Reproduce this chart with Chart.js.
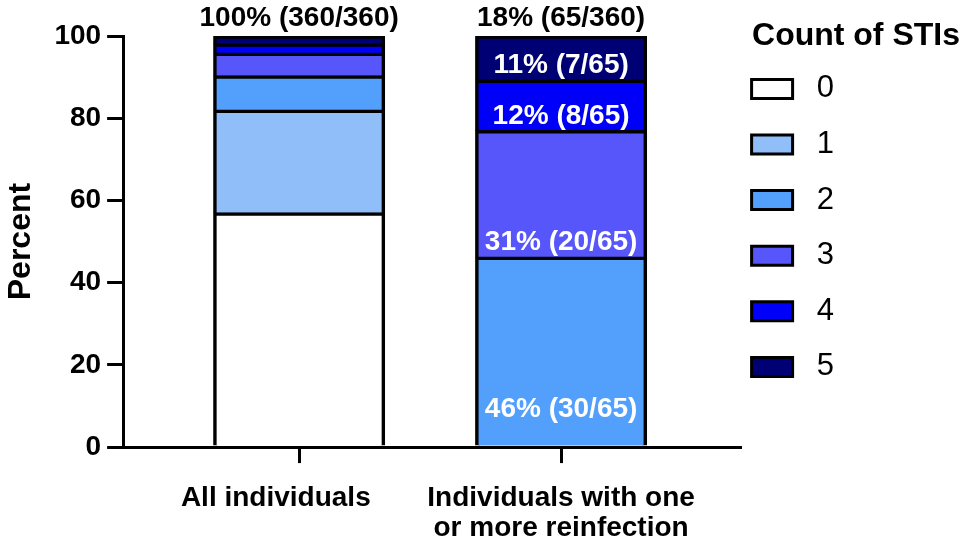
<!DOCTYPE html>
<html>
<head>
<meta charset="utf-8">
<script src="https://cdn.jsdelivr.net/npm/chart.js@4.4.1/dist/chart.umd.min.js"></script>
<style>
    html, body { margin: 0; padding: 0; background: #fff; }
    #wrap { width: 969px; height: 544px; position: relative; }
</style>
</head>
<body>
<div id="wrap"><canvas id="grafico"></canvas></div>
<script>
// dados
var groupPositions = [1, 2];
var groupLabels = [['All individuals      '], ['Individuals with one', 'or more reinfection']];
var groupTotals = [360, 65];
var stiCounts = ['0', '1', '2', '3', '4', '5'];
var count0 = [205, 0];
var count1 = [90, 0];
var count2 = [30, 30];
var count3 = [20, 20];
var count4 = [8, 8];
var count5 = [7, 7];
var showSegmentLabels = [false, true];
var yTicks = [0, 20, 40, 60, 80, 100];

var cores = ['#FFFFFF', '#8FBEF9', '#52A0FB', '#5656FA', '#0000F8', '#000075'];
var fonte = "'Liberation Sans', Arial, sans-serif";

var contagens = [count0, count1, count2, count3, count4, count5];

var datasets = contagens.map(function (serie, i) {
    return {
        label: stiCounts[i],
        data: serie.map(function (n, j) {
            return { x: groupPositions[j], y: n / groupTotals[j] * 100 };
        }),
        counts: serie,
        backgroundColor: cores[i],
        borderColor: '#000',
        borderWidth: 3.5,
        inflateAmount: 0.75,   // sobrepoe os segmentos, sem fresta clara entre eles
        barPercentage: 0.651,
        categoryPercentage: 1
    };
});

// legenda: largura fixa e posicao ao lado do eixo
var legendPlace = {
    id: 'legendPlace',
    beforeInit: function (chart) {
        var fit = chart.legend.fit;
        chart.legend.fit = function () {
            fit.call(this);
            this.width = 229;
        };
    },
    afterLayout: function (chart) {
        var lg = chart.legend;
        lg.left = 727;
        lg.top = 0;
        lg.width = 258;
        lg.right = lg.left + lg.width;
    }
};

// rotulos das barras
var barText = {
    id: 'barText',
    afterDatasetsDraw: function (chart) {
        var ctx = chart.ctx;
        ctx.save();
        ctx.textAlign = 'center';
        ctx.textBaseline = 'middle';
        ctx.font = 'bold 28px ' + fonte;

        var lastMeta = chart.getDatasetMeta(datasets.length - 1);
        groupTotals.forEach(function (total, j) {
            var el = lastMeta.data[j];
            var pct = Math.round(total / groupTotals[0] * 100);
            ctx.fillStyle = '#000';
            ctx.fillText(pct + '% (' + total + '/' + groupTotals[0] + ')', el.x, el.y - 18);
        });

        ctx.fillStyle = '#fff';
        groupTotals.forEach(function (total, j) {
            if (!showSegmentLabels[j]) return;
            var below = 0;
            datasets.forEach(function (ds, i) {
                var n = ds.counts[j];
                if (!n) return;
                var el = chart.getDatasetMeta(i).data[j];
                var lift = below === 0 ? 36 : 15;
                var pct = Math.round(n / total * 100);
                ctx.fillText(pct + '% (' + n + '/' + total + ')', el.x, el.base - lift);
                below += n;
            });
        });
        ctx.restore();
    }
};

Chart.defaults.color = '#000';
Chart.defaults.font.family = fonte;

var ctx = document.getElementById('grafico').getContext('2d');
var myChart = new Chart(ctx, {
    type: 'bar',
    data: { datasets: datasets },
    options: {
        responsive: true,
        maintainAspectRatio: false,
        animation: false,
        layout: {
            padding: { top: 36, bottom: -19, left: 0, right: 0 }
        },
        scales: {
            x: {
                type: 'linear',
                stacked: true,
                offset: false,
                min: 0.328,
                max: 2.683,
                afterBuildTicks: function (axis) {
                    axis.ticks = groupPositions.map(function (v) { return { value: v }; });
                },
                ticks: {
                    autoSkip: false,
                    maxRotation: 0,
                    padding: 20,
                    font: { size: 28, weight: 'bold', lineHeight: 1.07 },
                    callback: function (value) {
                        return groupLabels[groupPositions.indexOf(value)];
                    }
                },
                grid: {
                    offset: false,
                    drawOnChartArea: false,
                    tickLength: 16,
                    lineWidth: 3,
                    color: '#000'
                },
                border: { color: '#000', width: 3 }
            },
            y: {
                stacked: true,
                min: 0,
                max: 100,
                afterBuildTicks: function (axis) {
                    axis.ticks = yTicks.map(function (v) { return { value: v }; });
                },
                ticks: {
                    padding: 6,
                    font: { size: 28, weight: 'bold' }
                },
                title: {
                    display: true,
                    text: 'Percent',
                    font: { size: 32, weight: 'bold' },
                    padding: { top: 2, bottom: 8 }
                },
                grid: {
                    drawOnChartArea: false,
                    tickLength: 16,
                    lineWidth: 3,
                    color: '#000'
                },
                border: { color: '#000', width: 3 }
            }
        },
        plugins: {
            tooltip: { enabled: false },
            legend: {
                position: 'right',
                align: 'start',
                title: {
                    display: true,
                    text: 'Count of STIs',
                    position: 'center',
                    font: { size: 32, weight: 'bold', lineHeight: 0.9 },
                    padding: { top: 20, bottom: 0 }
                },
                labels: {
                    boxWidth: 41,
                    boxHeight: 19,
                    padding: 24.6,
                    font: { size: 31 },
                    color: '#000',
                    generateLabels: function (chart) {
                        return Chart.defaults.plugins.legend.labels.generateLabels(chart).map(function (item) {
                            item.text = ' ' + item.text;
                            item.lineWidth = 3;
                            return item;
                        });
                    }
                }
            }
        }
    },
    plugins: [legendPlace, barText]
});
</script>
</body>
</html>
